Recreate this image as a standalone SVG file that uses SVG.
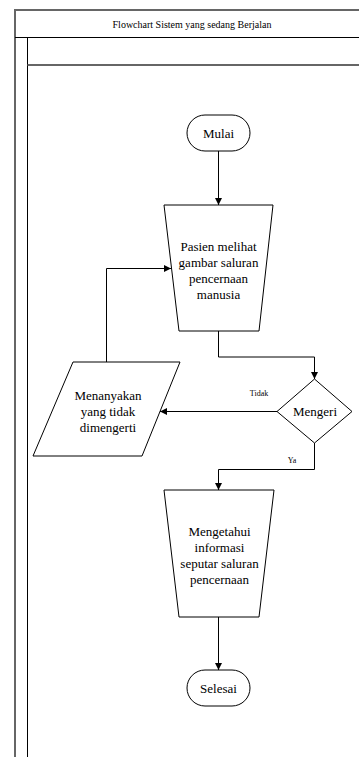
<svg xmlns="http://www.w3.org/2000/svg" width="359" height="757" viewBox="0 0 359 757">
<style>
.frame-g{stroke:#666;stroke-width:2;fill:none}
.frame-k{stroke:#000;stroke-width:1;fill:none}
.shape{fill:#fff;stroke:#000;stroke-width:1}
.conn{fill:none;stroke:#000;stroke-width:1}
text{font-family:"Liberation Serif","Times New Roman",serif;fill:#000;text-anchor:middle;dominant-baseline:central}
.t{font-size:13px}
.s{font-size:8px}
.h{font-size:10px}
</style>
<defs>
<marker id="arr" viewBox="0 0 10 10" refX="10" refY="5" markerWidth="7" markerHeight="7" markerUnits="userSpaceOnUse" orient="auto">
<path d="M0,0 L10,5 L0,10 z" fill="#000"/>
</marker>
</defs>
<g id="frame">
<line class="frame-g" x1="15" y1="10" x2="359" y2="10"/>
<line class="frame-g" x1="15" y1="9" x2="15" y2="757"/>
<line class="frame-k" x1="15" y1="37.5" x2="359" y2="37.5"/>
<line class="frame-k" x1="27.5" y1="37.5" x2="27.5" y2="757"/>
<line class="frame-g" x1="27.5" y1="65" x2="359" y2="65"/>
<text class="h" x="192" y="24">Flowchart Sistem yang sedang Berjalan</text>
</g>
<g id="connectors">
<line class="conn" x1="218.5" y1="151" x2="218.5" y2="205" marker-end="url(#arr)"/>
<polyline class="conn" points="218.5,331 218.5,357 314.5,357 314.5,379" marker-end="url(#arr)"/>
<line class="conn" x1="277" y1="411.5" x2="160" y2="411.5" marker-end="url(#arr)"/>
<polyline class="conn" points="106.5,362 106.5,268.5 171,268.5" marker-end="url(#arr)"/>
<polyline class="conn" points="314.5,443 314.5,469.5 218.5,469.5 218.5,490" marker-end="url(#arr)"/>
<line class="conn" x1="218.5" y1="617" x2="218.5" y2="670" marker-end="url(#arr)"/>
<text class="s" x="259" y="393">Tidak</text>
<text class="s" x="292" y="460">Ya</text>
</g>
<g id="mulai">
<rect class="shape" x="187" y="115" width="63" height="36" rx="18" ry="18"/>
<text class="t" x="218.5" y="133.5">Mulai</text>
</g>
<g id="pasien">
<polygon class="shape" points="164,205 273,205 259,331 179,331"/>
<text class="t" x="218.5" y="246">Pasien melihat</text>
<text class="t" x="218.5" y="262.5">gambar saluran</text>
<text class="t" x="218.5" y="278.5">pencernaan</text>
<text class="t" x="218.5" y="294.5">manusia</text>
</g>
<g id="mengeri">
<polygon class="shape" points="314.5,379 352,411.5 314.5,443 277,411.5"/>
<text class="t" x="315" y="411.5">Mengeri</text>
</g>
<g id="menanyakan">
<polygon class="shape" points="73,362 180,362 142,456 33,456"/>
<text class="t" x="108" y="395">Menanyakan</text>
<text class="t" x="108" y="411.5">yang tidak</text>
<text class="t" x="108" y="427.5">dimengerti</text>
</g>
<g id="mengetahui">
<polygon class="shape" points="164,490 274,490 259,617 179,617"/>
<text class="t" x="219.5" y="531">Mengetahui</text>
<text class="t" x="219.5" y="547">informasi</text>
<text class="t" x="219.5" y="563.5">seputar saluran</text>
<text class="t" x="219.5" y="579.5">pencernaan</text>
</g>
<g id="selesai">
<rect class="shape" x="187" y="670" width="63" height="36" rx="18" ry="18"/>
<text class="t" x="218.5" y="688.5">Selesai</text>
</g>
</svg>
